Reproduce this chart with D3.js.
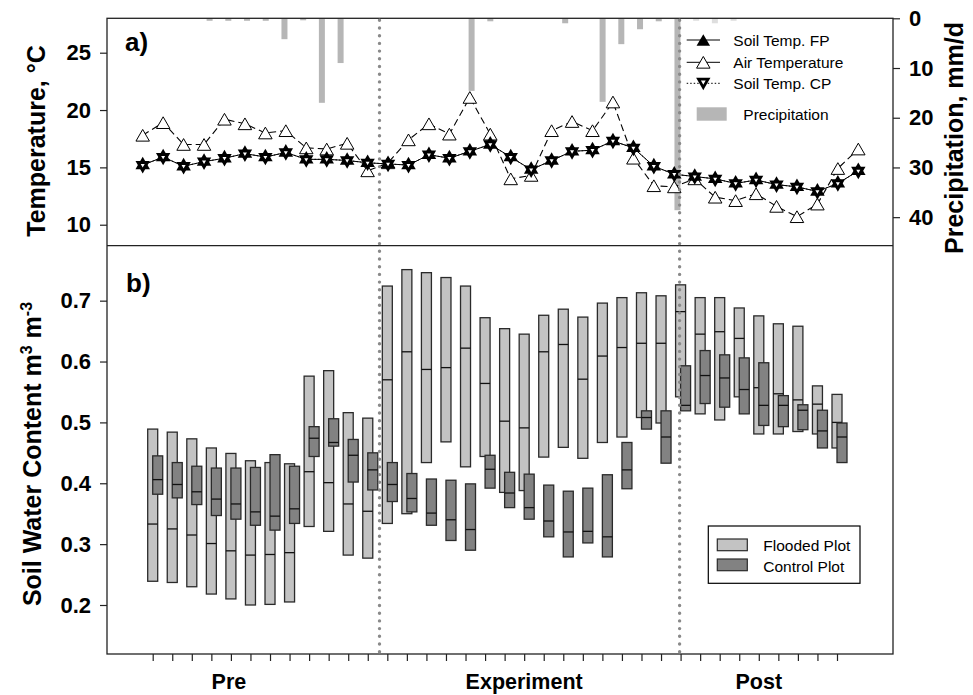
<!DOCTYPE html>
<html>
<head>
<meta charset="utf-8">
<script src="https://cdn.jsdelivr.net/npm/d3@7"></script>
<style>
  body { margin: 0; background: #fff; }
  svg text { font-family: "Liberation Sans", Arial, sans-serif; }
</style>
</head>
<body>
<svg class="figure" width="973" height="695"></svg>
<script>
// ---- data ----
// panel a: one value per measurement day (36 days)
const airTemp = [17.8, 18.9, 17.0, 17.0, 19.2, 18.8, 18.0, 18.2, 16.7, 16.6, 17.1, 14.7,
    15.4, 17.4, 18.8, 17.9, 21.1, 17.9, 14.0, 14.3, 18.2, 19.0, 18.2, 20.7,
    15.8, 13.4, 13.3, 14.0, 12.4, 12.1, 12.7, 11.6, 10.7, 11.8, 14.9, 16.6];
const soilTempFP = [15.2, 15.9, 15.1, 15.5, 15.8, 16.2, 15.9, 16.3, 15.7, 15.7, 15.6, 15.4,
    15.3, 15.2, 16.1, 15.8, 16.4, 17.0, 15.9, 14.8, 15.6, 16.4, 16.5, 17.3,
    16.7, 15.1, 14.4, 14.2, 14.0, 13.6, 13.9, 13.5, 13.3, 12.9, 13.6, 14.7];
const soilTempCP = [15.2, 15.9, 15.1, 15.5, 15.8, 16.2, 15.9, 16.3, 15.7, 15.7, 15.6, 15.4,
    15.3, 15.2, 16.1, 15.8, 16.4, 17.0, 15.9, 14.8, 15.6, 16.4, 16.5, 17.3,
    16.7, 15.1, 14.4, 14.2, 14.0, 13.6, 13.9, 13.5, 13.3, 12.9, 13.6, 14.7];
// daily precipitation (mm/d), 29 days
const precipitation = [0.5, 0.5, 0.5, 0.5, 4.2, 0.4, 17.0, 9.0, 0, 0, 0, 0, 0, 0,
    14.6, 0.6, 0, 0, 0, 1.0, 0, 16.8, 5.2, 2.2, 0.6, 38.6, 0.5, 1.0, 0.5];

// panel b: box low / median / high per day
const floodedHigh = [0.489, 0.484, 0.473, 0.458, 0.449, 0.437, 0.434, 0.432, 0.576, 0.585, 0.516, 0.507,
    0.724, 0.751, 0.746, 0.738, 0.724, 0.672, 0.654, 0.645, 0.676, 0.686, 0.673, 0.696,
    0.705, 0.713, 0.708, 0.726, 0.705, 0.705, 0.688, 0.675, 0.662, 0.658, 0.560, 0.546];
const floodedMed = [0.333, 0.325, 0.315, 0.301, 0.289, 0.282, 0.283, 0.286, 0.419, 0.401, 0.366, 0.354,
    0.570, 0.616, 0.587, 0.590, 0.622, 0.564, 0.502, 0.491, 0.616, 0.628, 0.571, 0.609,
    0.623, 0.630, 0.630, 0.682, 0.645, 0.649, 0.638, 0.557, 0.547, 0.537, 0.530, 0.500];
const floodedLow = [0.239, 0.237, 0.230, 0.218, 0.210, 0.200, 0.201, 0.205, 0.329, 0.321, 0.282, 0.277,
    0.334, 0.350, 0.434, 0.468, 0.427, 0.444, 0.385, 0.388, 0.443, 0.459, 0.441, 0.467,
    0.476, 0.508, 0.499, 0.542, 0.514, 0.504, 0.542, 0.481, 0.481, 0.485, 0.481, 0.458];
const controlHigh = [0.445, 0.434, 0.428, 0.425, 0.425, 0.426, 0.447, 0.428, 0.493, 0.506, 0.472, 0.450,
    0.434, 0.416, 0.407, 0.405, 0.399, 0.446, 0.418, 0.415, 0.397, 0.387, 0.392, 0.414,
    0.467, 0.519, 0.519, 0.593, 0.618, 0.611, 0.606, 0.598, 0.544, 0.529, 0.520, 0.499];
const controlMed = [0.406, 0.398, 0.386, 0.374, 0.366, 0.353, 0.346, 0.358, 0.474, 0.467, 0.446, 0.422,
    0.398, 0.375, 0.351, 0.340, 0.324, 0.423, 0.384, 0.360, 0.338, 0.320, 0.321, 0.312,
    0.422, 0.508, 0.476, 0.528, 0.577, 0.573, 0.554, 0.528, 0.528, 0.520, 0.486, 0.476];
const controlLow = [0.382, 0.376, 0.365, 0.347, 0.341, 0.331, 0.323, 0.334, 0.444, 0.461, 0.402, 0.389,
    0.370, 0.353, 0.331, 0.306, 0.290, 0.392, 0.360, 0.341, 0.312, 0.279, 0.302, 0.279,
    0.391, 0.489, 0.433, 0.519, 0.531, 0.525, 0.514, 0.495, 0.493, 0.488, 0.458, 0.434];

const tempTicks = [10, 15, 20, 25];
const precipTicks = [0, 10, 20, 30, 40];
const swcTicks = [0.2, 0.3, 0.4, 0.5, 0.6, 0.7];
const phaseLabels = ["Pre", "Experiment", "Post"];
const phaseLabelPos = [3.9, 19.0, 31.0];   // in day index units
const phaseBreaks = [11.6, 26.95];          // dotted separators, day index units

class SoilWaterFigure {

    constructor(selector){
        this.svg = d3.select(selector);
        this.left = 107;
        this.right = 893;
        this.topA = 18.3;
        this.bottomA = 245.7;
        this.bottomB = 654;
        this.font = '"Liberation Sans", Arial, sans-serif';
    }

    draw(){
        // x scales: the temperature, precipitation and box series each sit on their own spacing
        this.xTemp = d3.scaleLinear().domain([0, airTemp.length - 1]).range([142.7, 858.3]);
        this.xPrecip = d3.scaleLinear().domain([0, precipitation.length - 1]).range([209.6, 733.6]);
        this.xBox = d3.scaleLinear().domain([0, floodedHigh.length - 1]).range([152.7, 837]);

        this.drawPanelA();
        this.drawPanelB();
        this.drawSeparators();
    }

    // triangle path, up or down, centred on bbox or on centroid
    tri(s, up, centroid){
        const h = s * 0.866;
        const t = centroid ? -2 * h / 3 : -h / 2;
        const b = centroid ? h / 3 : h / 2;
        if(up){
            return `M0,${t}L${s / 2},${b}L${-s / 2},${b}Z`;
        }
        return `M0,${-t}L${s / 2},${-b}L${-s / 2},${-b}Z`;
    }

    drawPanelA(){
        const svg = this.svg;
        const that = this;

        this.yTemp = d3.scaleLinear().domain([8.17, 28.0]).range([this.bottomA, this.topA]);
        this.yPrecip = d3.scaleLinear().domain([0, 45.74]).range([this.topA, this.bottomA]);

        // precipitation bars hang from the top
        svg.append("g").selectAll("rect")
            .data(precipitation.map((v, i) => ({i: i, v: v})).filter(d => d.v > 0))
            .join("rect")
            .attr("x", d => this.xPrecip(d.i) - 3)
            .attr("y", this.topA)
            .attr("width", 6)
            .attr("height", d => this.yPrecip(d.v) - this.topA)
            .attr("fill", "#b6b6b6");

        // legend background (slightly fades bars behind it)
        svg.append("rect").attr("x", 684).attr("y", 19).attr("width", 158).attr("height", 108)
            .attr("fill", "#fff").attr("opacity", 0.55);

        const line = d3.line().x((d, i) => this.xTemp(i)).y(d => this.yTemp(d));

        svg.append("path").attr("d", line(airTemp)).attr("fill", "none")
            .attr("stroke", "#000").attr("stroke-width", 1.1).attr("stroke-dasharray", "7,4");
        svg.append("path").attr("d", line(soilTempFP)).attr("fill", "none")
            .attr("stroke", "#000").attr("stroke-width", 1);
        svg.append("path").attr("d", line(soilTempCP)).attr("fill", "none")
            .attr("stroke", "#000").attr("stroke-width", 1).attr("stroke-dasharray", "1.5,2");

        // air temperature: open triangles
        svg.append("g").selectAll("path")
            .data(airTemp)
            .join("path")
            .attr("transform", (d, i) => `translate(${this.xTemp(i)},${this.yTemp(d)})`)
            .attr("d", this.tri(13.5, true, false))
            .attr("fill", "#fff").attr("stroke", "#000").attr("stroke-width", 1);

        // soil temps: filled up triangle (FP) + thick down triangle (CP) -> star
        let stars = svg.append("g");
        soilTempFP.forEach((d, i) => {
            stars.append("path").attr("transform", `translate(${that.xTemp(i)},${that.yTemp(d)})`)
                .attr("d", that.tri(14.5, true, true)).attr("fill", "#000");
        });
        soilTempCP.forEach((d, i) => {
            stars.append("path").attr("transform", `translate(${that.xTemp(i)},${that.yTemp(d)})`)
                .attr("d", that.tri(9.2, false, true))
                .attr("fill", "#fff").attr("stroke", "#000").attr("stroke-width", 3);
        });

        // axes
        svg.append("g")
            .attr("transform", `translate(${this.left},0)`)
            .call(d3.axisLeft(this.yTemp).tickValues(tempTicks).tickSize(7).tickPadding(9).tickSizeOuter(0))
            .call(g => g.select(".domain").remove());
        svg.append("g")
            .attr("transform", `translate(${this.right},0)`)
            .call(d3.axisRight(this.yPrecip).tickValues(precipTicks).tickSize(7).tickPadding(9).tickSizeOuter(0))
            .call(g => g.select(".domain").remove());

        // legend
        const lg = svg.append("g").attr("font-size", "15.5px").attr("font-family", this.font);
        const rows = [
            {y: 40, label: "Soil Temp. FP"},
            {y: 62.3, label: "Air Temperature"},
            {y: 83.3, label: "Soil Temp. CP"}
        ];
        lg.append("line").attr("x1", 686.7).attr("x2", 720).attr("y1", rows[0].y).attr("y2", rows[0].y)
            .attr("stroke", "#000").attr("stroke-width", 1);
        lg.append("path").attr("transform", `translate(703.3,${rows[0].y})`)
            .attr("d", this.tri(13.5, true, false)).attr("fill", "#000");
        lg.append("line").attr("x1", 686.7).attr("x2", 720).attr("y1", rows[1].y).attr("y2", rows[1].y)
            .attr("stroke", "#000").attr("stroke-width", 1);
        lg.append("path").attr("transform", `translate(703.3,${rows[1].y})`)
            .attr("d", this.tri(13.5, true, false)).attr("fill", "#fff").attr("stroke", "#000");
        lg.append("line").attr("x1", 686.7).attr("x2", 720).attr("y1", rows[2].y).attr("y2", rows[2].y)
            .attr("stroke", "#000").attr("stroke-width", 1).attr("stroke-dasharray", "1.5,2");
        lg.append("path").attr("transform", `translate(703.3,${rows[2].y})`)
            .attr("d", this.tri(9.5, false, false))
            .attr("fill", "#fff").attr("stroke", "#000").attr("stroke-width", 2.8);
        lg.selectAll("text.row").data(rows).join("text").attr("class", "row")
            .attr("x", 733.3).attr("y", d => d.y).attr("dy", "0.36em").text(d => d.label);
        lg.append("rect").attr("x", 696.7).attr("y", 107.3).attr("width", 30).attr("height", 13.4)
            .attr("fill", "#b6b6b6");
        lg.append("text").attr("x", 743.3).attr("y", 114).attr("dy", "0.36em").text("Precipitation");

        // titles
        svg.append("text").attr("transform", "translate(45,141) rotate(-90)")
            .attr("text-anchor", "middle").attr("font-size", "25px").attr("font-weight", "bold")
            .text("Temperature, °C");
        svg.append("text").attr("transform", "translate(963,138) rotate(-90)")
            .attr("text-anchor", "middle").attr("font-size", "25px").attr("font-weight", "bold")
            .text("Precipitation, mm/d");
        svg.append("text").attr("x", 125).attr("y", 51)
            .attr("font-size", "26px").attr("font-weight", "bold").text("a)");
    }

    drawPanelB(){
        const svg = this.svg;
        this.ySwc = d3.scaleLinear().domain([0.1195, 0.7903]).range([this.bottomB, this.bottomA]);
        const y = this.ySwc;
        const boxW = 10;

        const drawBoxes = (lows, meds, highs, offset, fill) => {
            let g = svg.append("g");
            let data = highs.map((h, i) => ({i: i, lo: lows[i], med: meds[i], hi: h}));
            g.selectAll("rect").data(data).join("rect")
                .attr("x", d => this.xBox(d.i) + offset - boxW / 2)
                .attr("y", d => y(d.hi))
                .attr("width", boxW)
                .attr("height", d => y(d.lo) - y(d.hi))
                .attr("fill", fill).attr("stroke", "#2a2a2a").attr("stroke-width", 1.3);
            g.selectAll("line").data(data).join("line")
                .attr("x1", d => this.xBox(d.i) + offset - boxW / 2)
                .attr("x2", d => this.xBox(d.i) + offset + boxW / 2)
                .attr("y1", d => y(d.med)).attr("y2", d => y(d.med))
                .attr("stroke", "#111").attr("stroke-width", 1.3);
        };

        drawBoxes(floodedLow, floodedMed, floodedHigh, 0, "#c3c3c3");
        drawBoxes(controlLow, controlMed, controlHigh, 5, "#828282");

        svg.append("g")
            .attr("transform", `translate(${this.left},0)`)
            .call(d3.axisLeft(y).tickValues(swcTicks).tickFormat(d3.format(".1f")).tickSize(7).tickPadding(9).tickSizeOuter(0))
            .call(g => g.select(".domain").remove());
        svg.append("g")
            .attr("transform", `translate(0,${this.bottomB})`)
            .call(d3.axisBottom(this.xBox).tickValues(d3.range(floodedHigh.length)).tickFormat("").tickSize(7).tickSizeOuter(0))
            .call(g => g.select(".domain").remove());

        // phase labels under the axis
        svg.append("g").selectAll("text").data(phaseLabels).join("text")
            .attr("x", (d, i) => this.xBox(phaseLabelPos[i]))
            .attr("y", 689)
            .attr("text-anchor", "middle").attr("font-size", "21.5px").attr("font-weight", "bold")
            .text(d => d);

        // legend
        const lg = svg.append("g").attr("font-size", "15.5px");
        lg.append("rect").attr("x", 708.3).attr("y", 526).attr("width", 151.7).attr("height", 57.3)
            .attr("fill", "#fff").attr("stroke", "#000").attr("stroke-width", 1.2);
        lg.append("rect").attr("x", 717.3).attr("y", 539).attr("width", 30).attr("height", 11.7)
            .attr("fill", "#c3c3c3").attr("stroke", "#2a2a2a").attr("stroke-width", 1.2);
        lg.append("rect").attr("x", 717.3).attr("y", 559).attr("width", 30).attr("height", 11.7)
            .attr("fill", "#828282").attr("stroke", "#2a2a2a").attr("stroke-width", 1.2);
        lg.append("text").attr("x", 763.3).attr("y", 545).attr("dy", "0.36em").text("Flooded Plot");
        lg.append("text").attr("x", 763.3).attr("y", 566).attr("dy", "0.36em").text("Control Plot");

        // title with superscripts
        let t = svg.append("text").attr("transform", "translate(41,454) rotate(-90)")
            .attr("text-anchor", "middle").attr("font-size", "25px").attr("font-weight", "bold");
        t.append("tspan").text("Soil Water Content m");
        t.append("tspan").attr("dy", -9).attr("font-size", "16px").text("3");
        t.append("tspan").attr("dy", 9).text(" m");
        t.append("tspan").attr("dy", -9).attr("font-size", "16px").text("-3");

        svg.append("text").attr("x", 126).attr("y", 292)
            .attr("font-size", "26px").attr("font-weight", "bold").text("b)");
    }

    drawSeparators(){
        const svg = this.svg;
        // frame lines
        svg.append("rect").attr("x", this.left).attr("y", this.topA)
            .attr("width", this.right - this.left).attr("height", this.bottomB - this.topA)
            .attr("fill", "none").attr("stroke", "#222").attr("stroke-width", 1.3);
        svg.append("line").attr("x1", this.left).attr("x2", this.right)
            .attr("y1", this.bottomA).attr("y2", this.bottomA)
            .attr("stroke", "#222").attr("stroke-width", 1.3);

        svg.append("g").selectAll("line").data(phaseBreaks).join("line")
            .attr("x1", d => this.xBox(d)).attr("x2", d => this.xBox(d))
            .attr("y1", this.topA + 2).attr("y2", this.bottomB)
            .attr("stroke", "#8a8a8a").attr("stroke-width", 3.4)
            .attr("stroke-linecap", "round").attr("stroke-dasharray", "0,7.7");

        // tick label styling
        svg.selectAll(".tick text").attr("font-size", "22px").attr("font-weight", "bold")
            .attr("fill", "#000").attr("font-family", this.font);
        svg.selectAll(".tick line").attr("stroke", "#222").attr("stroke-width", 1.2);
    }
}

let fig = new SoilWaterFigure(".figure");
fig.draw();
</script>
</body>
</html>
